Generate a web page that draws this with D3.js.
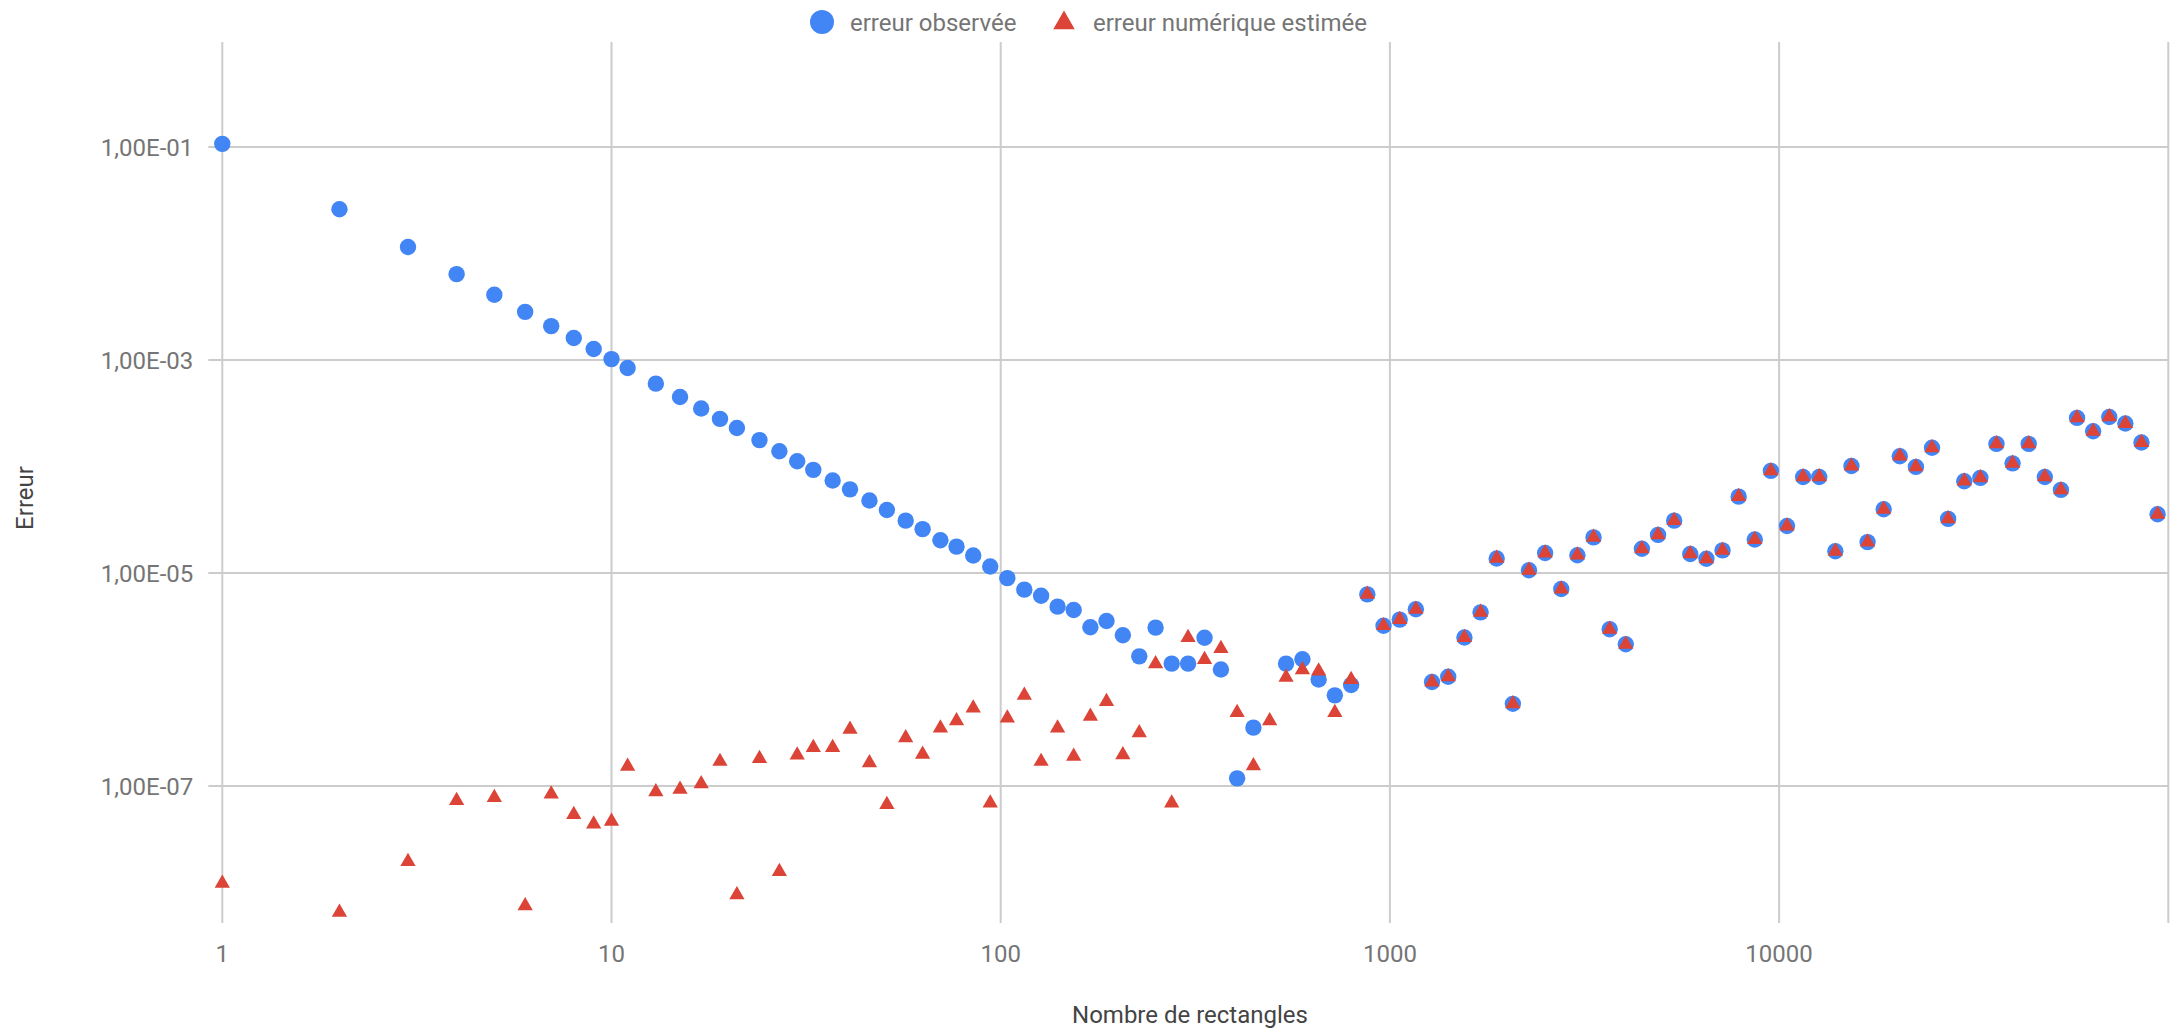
<!DOCTYPE html>
<html>
<head>
<meta charset="utf-8">
<script src="https://cdn.jsdelivr.net/npm/d3@7"></script>
<style>
body { margin: 0; background: #fff; }
svg { display: block; font-family: Roboto, sans-serif; }
.tickLabel { fill: #757575; font-size: 24px; }
.axisTitle { fill: #444444; font-size: 24px; }
.legendText { fill: #757575; font-size: 24px; }
.grid { stroke: #cccccc; stroke-width: 2; }
</style>
</head>
<body>
<svg></svg>
<script>
// nombre de rectangles (x)
const rectangles = [1, 2, 3, 4, 5, 6, 7, 8, 9, 10, 11, 13, 15, 17, 19, 21, 24, 27, 30, 33, 37, 41, 46, 51, 57, 63, 70, 77, 85, 94,
	104, 115, 127, 140, 154, 170, 187, 206, 227, 250, 275, 303, 334, 368, 405, 446, 491, 541, 596, 656, 722, 795, 875, 963,
	1060, 1166, 1283, 1412, 1554, 1710, 1881, 2070, 2277, 2505, 2756, 3032, 3336, 3670, 4037, 4441, 4886, 5375, 5913, 6505, 7156, 7872, 8660, 9526,
	10479, 11527, 12680, 13948, 15343, 16878, 18566, 20423, 22466, 24713, 27185, 29904, 32895, 36185, 39804, 43785, 48164, 52981, 58280, 64108, 70519, 77571, 85329, 93862];

// erreur observée
const observed = [0.107, 0.026, 0.0115, 0.0064, 0.0041, 0.00283, 0.00208, 0.00161, 0.00127, 0.00102,
	8.4e-4, 6.0e-4, 4.5e-4, 3.5e-4, 2.8e-4, 2.3e-4, 1.77e-4, 1.39e-4, 1.12e-4, 9.3e-5, 7.4e-5, 6.1e-5, 4.8e-5, 3.9e-5, 3.1e-5, 2.58e-5, 2.03e-5, 1.77e-5, 1.46e-5, 1.15e-5,
	8.95e-6, 6.98e-6, 6.12e-6, 4.83e-6, 4.5e-6, 3.09e-6, 3.54e-6, 2.6e-6, 1.65e-6, 3.07e-6, 1.41e-6, 1.41e-6, 2.47e-6, 1.24e-6, 1.18e-7, 3.53e-7, null, 1.41e-6, 1.55e-6, 1.0e-6, 7.1e-7, 8.87e-7, 6.3e-6, 3.2e-6,
	3.65e-6, 4.57e-6, 9.46e-7, 1.06e-6, 2.48e-6, 4.27e-6, 1.37e-5, 5.91e-7, 1.06e-5, 1.54e-5, 7.08e-6, 1.47e-5, 2.16e-5, 2.96e-6, 2.14e-6, 1.69e-5, 2.28e-5, 3.1e-5, 1.51e-5, 1.36e-5, 1.63e-5, 5.21e-5, 2.06e-5, 9.1e-5,
	2.76e-5, 7.98e-5, 7.98e-5, 1.6e-5, 1.01e-4, 1.95e-5, 3.97e-5, 1.25e-4, 9.91e-5, 1.5e-4, 3.22e-5, 7.28e-5, 7.82e-5, 1.63e-4, 1.07e-4, 1.63e-4, 7.98e-5, 6.03e-5, 2.86e-4, 2.14e-4, 2.92e-4, 2.53e-4, 1.68e-4, 3.56e-5];

// erreur numérique estimée
const estimated = [1.22e-8, 6.5e-9, 1.95e-8, 7.3e-8, 7.8e-8, 7.5e-9, 8.4e-8, 5.4e-8, 4.4e-8, 4.65e-8,
	1.53e-7, 8.8e-8, 9.3e-8, 1.05e-7, 1.7e-7, 9.5e-9, 1.81e-7, 1.57e-8, 1.95e-7, 2.3e-7, 2.3e-7, 3.4e-7, 1.65e-7, 6.7e-8, 2.84e-7, 1.98e-7, 3.5e-7, 4.1e-7, 5.4e-7, 6.9e-8,
	4.35e-7, 7.1e-7, 1.7e-7, 3.5e-7, 1.9e-7, 4.5e-7, 6.2e-7, 1.96e-7, 3.15e-7, 1.4e-6, 6.9e-8, 2.47e-6, 1.54e-6, 1.95e-6, 4.9e-7, 1.55e-7, 4.1e-7, 1.05e-6, 1.23e-6, 1.2e-6, 4.9e-7, 1.0e-6, 6.3e-6, 3.2e-6,
	3.65e-6, 4.57e-6, 9.46e-7, 1.06e-6, 2.48e-6, 4.27e-6, 1.37e-5, 5.91e-7, 1.06e-5, 1.54e-5, 7.08e-6, 1.47e-5, 2.16e-5, 2.96e-6, 2.14e-6, 1.69e-5, 2.28e-5, 3.1e-5, 1.51e-5, 1.36e-5, 1.63e-5, 5.21e-5, 2.06e-5, 9.1e-5,
	2.76e-5, 7.98e-5, 7.98e-5, 1.6e-5, 1.01e-4, 1.95e-5, 3.97e-5, 1.25e-4, 9.91e-5, 1.5e-4, 3.22e-5, 7.28e-5, 7.82e-5, 1.63e-4, 1.07e-4, 1.63e-4, 7.98e-5, 6.03e-5, 2.86e-4, 2.14e-4, 2.92e-4, 2.53e-4, 1.68e-4, 3.56e-5];

const xTicks = [1, 10, 100, 1000, 10000];
const xGrid = [1, 10, 100, 1000, 10000, 100000];
const yTicks = [1e-1, 1e-3, 1e-5, 1e-7];
const seriesNames = ['erreur observée', 'erreur numérique estimée'];
const xTitle = 'Nombre de rectangles';
const yTitle = 'Erreur';

const svg = d3.select('svg')
	.attr('width', 2178)
	.attr('height', 1029);

let plotTop = 42,
	plotBottom = 923,
	plotLeft = 222.3,
	plotRight = 2168.3,
	blue = '#4285f4',
	red = '#db4437';

const xScale = d3.scaleLog()
	.domain([1, 100000])
	.range([plotLeft, plotRight]);

// gridlines 1e-1 and 1e-7 sit at 147 / 786
const yScale = d3.scaleLog()
	.domain([1e-7, 1e-1])
	.range([786, 147]);

const sciFormat = v => {
	const [m, e] = v.toExponential(2).split('e');
	const n = +e;
	return m.replace('.', ',') + 'E' + (n < 0 ? '-' : '+') + String(Math.abs(n)).padStart(2, '0');
};

// grid
svg.append('g').selectAll('line')
	.data(yTicks)
	.enter().append('line')
	.attr('class', 'grid')
	.attr('x1', plotLeft - 14)
	.attr('x2', plotRight)
	.attr('y1', d => yScale(d))
	.attr('y2', d => yScale(d));

svg.append('g').selectAll('line')
	.data(xGrid)
	.enter().append('line')
	.attr('class', 'grid')
	.attr('x1', d => xScale(d))
	.attr('x2', d => xScale(d))
	.attr('y1', plotTop)
	.attr('y2', plotBottom);

// tick labels
svg.append('g').selectAll('text')
	.data(yTicks)
	.enter().append('text')
	.attr('class', 'tickLabel')
	.attr('text-anchor', 'end')
	.attr('x', plotLeft - 29)
	.attr('y', d => yScale(d) + 8.5)
	.text(sciFormat);

svg.append('g').selectAll('text')
	.data(xTicks)
	.enter().append('text')
	.attr('class', 'tickLabel')
	.attr('text-anchor', 'middle')
	.attr('x', d => xScale(d))
	.attr('y', 962)
	.text(d => d);

// axis titles
svg.append('text')
	.attr('class', 'axisTitle')
	.attr('text-anchor', 'middle')
	.attr('x', 1190)
	.attr('y', 1023)
	.text(xTitle);

svg.append('text')
	.attr('class', 'axisTitle')
	.attr('text-anchor', 'middle')
	.attr('transform', 'translate(33, 498) rotate(-90)')
	.text(yTitle);

const points = rectangles.map((n, i) => ({ n: n, obs: observed[i], est: estimated[i] }));

const triangle = d3.symbol().type(d3.symbolTriangle).size(101);

// erreur observée
svg.append('g').selectAll('circle')
	.data(points.filter(d => d.obs != null))
	.enter().append('circle')
	.attr('cx', d => xScale(d.n))
	.attr('cy', d => yScale(d.obs))
	.attr('r', 8.2)
	.attr('fill', blue);

// erreur numérique estimée
svg.append('g').selectAll('path')
	.data(points.filter(d => d.est != null))
	.enter().append('path')
	.attr('d', triangle)
	.attr('transform', d => `translate(${xScale(d.n)}, ${yScale(d.est)})`)
	.attr('fill', red);

// legend
const legend = svg.append('g');
legend.append('circle')
	.attr('cx', 822)
	.attr('cy', 22)
	.attr('r', 12)
	.attr('fill', blue);
legend.append('text')
	.attr('class', 'legendText')
	.attr('x', 850)
	.attr('y', 30.5)
	.text(seriesNames[0]);
legend.append('path')
	.attr('d', d3.symbol().type(d3.symbolTriangle).size(200))
	.attr('transform', 'translate(1064, 23)')
	.attr('fill', red);
legend.append('text')
	.attr('class', 'legendText')
	.attr('x', 1093)
	.attr('y', 30.5)
	.text(seriesNames[1]);
</script>
</body>
</html>
